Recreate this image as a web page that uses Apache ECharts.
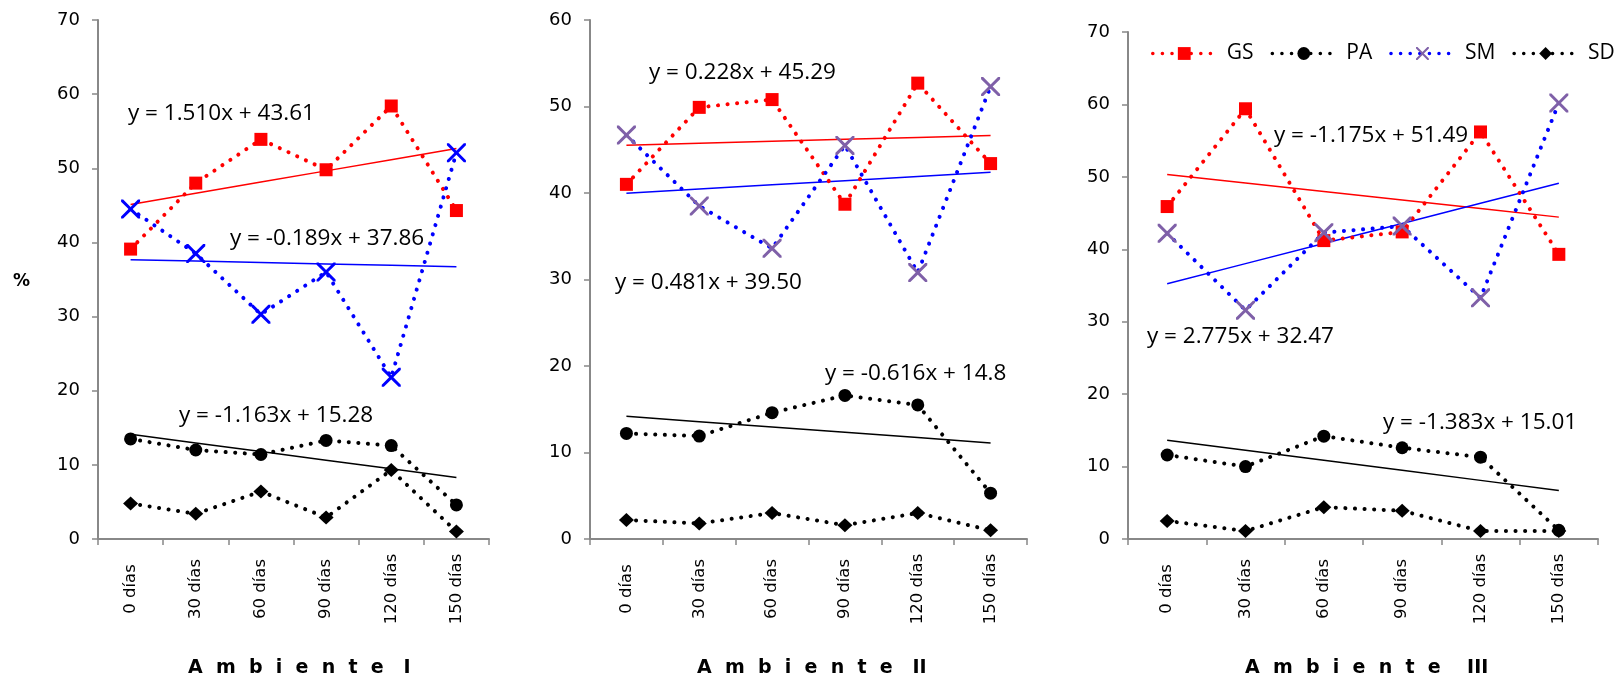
<!DOCTYPE html>
<html>
<head>
<meta charset="utf-8">
<script src="https://cdn.jsdelivr.net/npm/echarts@6/dist/echarts.min.js"></script>
<style>
html,body{margin:0;padding:0;background:#fff;}
#c{width:1619px;height:682px;}
</style>
</head>
<body>
<div id="c"></div>
<script>
// ---------- data ----------
const categories = ['0 días', '30 días', '60 días', '90 días', '120 días', '150 días'];
const seriesNames = ['GS', 'PA', 'SM', 'SD'];

// Ambiente I
const gs1 = [39.1, 48.0, 53.9, 49.8, 58.4, 44.3];
const pa1 = [13.5, 12.0, 11.4, 13.3, 12.6, 4.6];
const sm1 = [44.5, 38.5, 30.3, 36.0, 21.8, 52.1];
const sd1 = [4.8, 3.4, 6.4, 2.9, 9.3, 1.0];
// Ambiente II
const gs2 = [41.0, 49.9, 50.8, 38.7, 52.7, 43.4];
const pa2 = [12.2, 11.9, 14.6, 16.6, 15.5, 5.3];
const sm2 = [46.7, 38.5, 33.6, 45.5, 30.8, 52.3];
const sd2 = [2.2, 1.8, 3.0, 1.6, 3.0, 1.0];
// Ambiente III
const gs3 = [45.9, 59.4, 41.2, 42.4, 56.2, 39.3];
const pa3 = [11.6, 10.0, 14.2, 12.6, 11.3, 1.2];
const sm3 = [42.2, 31.6, 42.3, 43.2, 33.3, 60.2];
const sd3 = [2.5, 1.1, 4.4, 3.9, 1.1, 1.1];

// linear trendlines shown on the chart: [slope, intercept] (x = 1..6)
const trendGS = [[1.510, 43.61], [0.228, 45.29], [-1.175, 51.49]];
const trendSM = [[-0.189, 37.86], [0.481, 39.50], [2.775, 32.47]];
const trendPA = [[-1.163, 15.28], [-0.616, 14.8], [-1.383, 15.01]];
const eqGS = ['y = 1.510x + 43.61', 'y = 0.228x + 45.29', 'y = -1.175x + 51.49'];
const eqSM = ['y = -0.189x + 37.86', 'y = 0.481x + 39.50', 'y = 2.775x + 32.47'];
const eqPA = ['y = -1.163x + 15.28', 'y = -0.616x + 14.8', 'y = -1.383x + 15.01'];

const yMax = [70, 60, 70];
const panelTitles = ['A  m  b  i  e  n  t  e   I', 'A  m  b  i  e  n  t  e   II', 'A  m  b  i  e  n  t  e    III'];
const yName = '%';

// ---------- styling / layout ----------
const RED = '#FF0000', BLUE = '#0000FF', PURPLE = '#7F60A8', BLACK = '#000000', AXIS = '#888888';
const X_PATH = 'path://M0,0 L2.2,0 L10,7.8 L17.8,0 L20,0 L20,2.2 L12.2,10 L20,17.8 L20,20 L17.8,20 L10,12.2 L2.2,20 L0,20 L0,17.8 L7.8,10 L0,2.2 Z';
const dotted = (color) => ({ color: color, width: 4, type: [0.1, 9.5], cap: 'round' });

const grids = [
  { left: 98, top: 20, width: 391, height: 519 },
  { left: 590, top: 20, width: 437, height: 519 },
  { left: 1128, top: 32, width: 470, height: 507 }
];

const panels = [
  { gs: gs1, pa: pa1, sm: sm1, sd: sd1, xColor: BLUE },
  { gs: gs2, pa: pa2, sm: sm2, sd: sd2, xColor: PURPLE },
  { gs: gs3, pa: pa3, sm: sm3, sd: sd3, xColor: PURPLE }
];

const eqPos = [
  { gs: [128, 114], sm: [230, 239], pa: [179, 416] },
  { gs: [649, 73], sm: [615, 283], pa: [825, 374] },
  { gs: [1274, 136], sm: [1147, 337], pa: [1383, 423] }
];
const titlePos = [[188, 668], [697, 668], [1245, 668]];

function trendData(coef) {
  return categories.map((c, i) => +(coef[0] * (i + 1) + coef[1]).toFixed(3));
}

const xAxes = [], yAxes = [], series = [], graphics = [];
for (let p = 0; p < 3; p++) {
  xAxes.push({
    type: 'category', gridIndex: p, data: categories, boundaryGap: true,
    axisLine: { show: true, lineStyle: { color: AXIS, width: 2 } },
    axisTick: { show: true, length: 6, lineStyle: { color: AXIS, width: 1.5 } },
    axisLabel: {
      rotate: 90, align: 'center', verticalAlign: 'middle', margin: 50,
      color: '#000', fontFamily: '"DejaVu Sans"', fontSize: 16.5, interval: 0
    },
    splitLine: { show: false }
  });
  yAxes.push({
    type: 'value', gridIndex: p, min: 0, max: yMax[p], interval: 10,
    axisLine: { show: true, lineStyle: { color: AXIS, width: 2 } },
    axisTick: { show: true, length: 6, lineStyle: { color: AXIS, width: 1.5 } },
    axisLabel: { color: '#000', fontFamily: '"DejaVu Sans"', fontSize: 18, margin: 18 },
    splitLine: { show: false }
  });
}

// panel 3 first so that the legend takes its icons
[2, 1, 0].forEach(p => {
  const d = panels[p];
  series.push(
    { name: 'GS', type: 'line', xAxisIndex: p, yAxisIndex: p, data: d.gs,
      symbol: 'rect', symbolSize: 13, itemStyle: { color: RED }, lineStyle: dotted(RED), z: 3 },
    { name: 'PA', type: 'line', xAxisIndex: p, yAxisIndex: p, data: d.pa,
      symbol: 'circle', symbolSize: 13, itemStyle: { color: BLACK }, lineStyle: dotted(BLACK), z: 3 },
    { name: 'SM', type: 'line', xAxisIndex: p, yAxisIndex: p, data: d.sm,
      symbol: X_PATH, symbolSize: 19, itemStyle: { color: d.xColor }, lineStyle: dotted(BLUE), z: 3 },
    { name: 'SD', type: 'line', xAxisIndex: p, yAxisIndex: p, data: d.sd,
      symbol: 'diamond', symbolSize: [15, 14], itemStyle: { color: BLACK }, lineStyle: dotted(BLACK), z: 3 },
    { name: 'tGS' + p, type: 'line', xAxisIndex: p, yAxisIndex: p, data: trendData(trendGS[p]),
      symbol: 'none', silent: true, lineStyle: { color: RED, width: 1.5 }, z: 2 },
    { name: 'tSM' + p, type: 'line', xAxisIndex: p, yAxisIndex: p, data: trendData(trendSM[p]),
      symbol: 'none', silent: true, lineStyle: { color: BLUE, width: 1.5 }, z: 2 },
    { name: 'tPA' + p, type: 'line', xAxisIndex: p, yAxisIndex: p, data: trendData(trendPA[p]),
      symbol: 'none', silent: true, lineStyle: { color: BLACK, width: 1.5 }, z: 2 }
  );
});

function txt(text, x, y, font) {
  return { type: 'text', x: x, y: y, z: 10, silent: true,
    style: { text: text, font: font, fill: '#000', textAlign: 'left', textVerticalAlign: 'middle', align: 'left', verticalAlign: 'middle' } };
}
const EQ_FONT = '22.5px "Open Sans"';
for (let p = 0; p < 3; p++) {
  graphics.push(txt(eqGS[p], eqPos[p].gs[0], eqPos[p].gs[1], EQ_FONT));
  graphics.push(txt(eqSM[p], eqPos[p].sm[0], eqPos[p].sm[1], EQ_FONT));
  graphics.push(txt(eqPA[p], eqPos[p].pa[0], eqPos[p].pa[1], EQ_FONT));
  graphics.push(txt(panelTitles[p], titlePos[p][0], titlePos[p][1], 'bold 19px "DejaVu Sans"'));
}
graphics.push(txt(yName, 13, 282, 'bold 17px "DejaVu Sans"'));

const chart = echarts.init(document.getElementById('c'), null, { renderer: 'canvas' });
chart.setOption({
  animation: false,
  backgroundColor: '#fff',
  grid: grids.map(g => Object.assign({ outerBoundsMode: 'none', containLabel: false }, g)),
  xAxis: xAxes,
  yAxis: yAxes,
  legend: {
    data: seriesNames,
    left: 1151, top: 43, padding: 0,
    itemWidth: 63, itemHeight: 16, itemGap: 17,
    textStyle: { fontFamily: '"Open Sans"', fontSize: 21, color: '#000', padding: [0, 0, 0, 6] },
    lineStyle: { width: 3.5 }
  },
  series: series,
  graphic: graphics
});
</script>
</body>
</html>
